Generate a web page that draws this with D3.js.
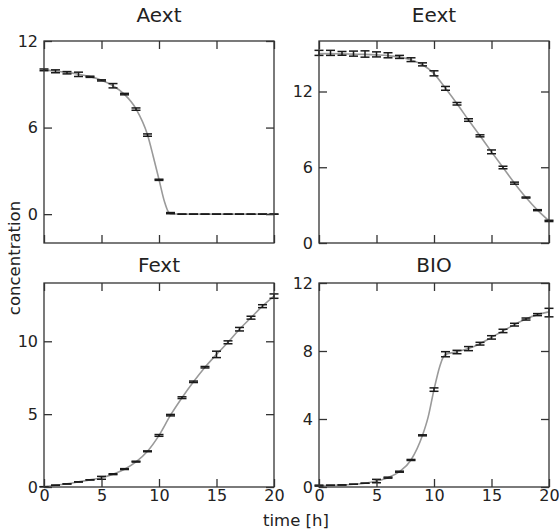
<!DOCTYPE html>
<html><head><meta charset="utf-8">
<script src="https://cdn.jsdelivr.net/npm/d3@7"></script>
<style>body{margin:0;background:#fff}svg{display:block}text{font-family:"DejaVu Sans",sans-serif;fill:#222}</style>
</head><body>
<script>
const times = d3.range(0, 21);
const xTicks = [0, 5, 10, 15, 20];

const aextVals = [10.0, 9.9, 9.8, 9.69, 9.52, 9.27, 8.9, 8.32, 7.28, 5.48, 2.38, 0.07, 0, 0, 0, 0, 0, 0, 0, 0, 0];
const aextErr  = [0.06, 0.1, 0.08, 0.15, 0.04, 0.04, 0.15, 0.05, 0.08, 0.08, 0.04, 0.04, 0, 0, 0, 0, 0, 0, 0, 0, 0];
const aextModelT = [0,1,2,3,4,5,6,7,8,9,9.5,10,10.5,10.75,11,12,13,14,15,16,17,18,19,20];
const aextModelV = [10.0,9.92,9.82,9.7,9.53,9.28,8.9,8.3,7.3,5.5,4.0,2.4,0.8,0.25,0.03,0,0,0,0,0,0,0,0,0,0];

const eextVals = [15.06, 15.06, 15.02, 15.0, 14.97, 14.94, 14.87, 14.74, 14.52, 14.15, 13.44, 12.25, 11.03, 9.74, 8.49, 7.22, 5.98, 4.74, 3.6, 2.6, 1.75];
const eextErr  = [0.2, 0.2, 0.15, 0.2, 0.25, 0.2, 0.2, 0.12, 0.15, 0.12, 0.2, 0.15, 0.1, 0.1, 0.08, 0.15, 0.1, 0.08, 0.04, 0.04, 0.05];
const eextModelT = times;
const eextModelV = [15.0, 15.0, 14.98, 14.96, 14.94, 14.9, 14.84, 14.72, 14.5, 14.12, 13.42, 12.25, 11.03, 9.74, 8.49, 7.22, 5.98, 4.74, 3.6, 2.6, 1.75];

const fextVals = [0.02, 0.12, 0.21, 0.35, 0.49, 0.63, 0.88, 1.23, 1.74, 2.45, 3.54, 4.93, 6.13, 7.22, 8.22, 9.1, 9.93, 10.83, 11.62, 12.41, 13.1];
const fextErr  = [0, 0, 0, 0, 0, 0.1, 0.03, 0.03, 0.03, 0.03, 0.06, 0.05, 0.06, 0.05, 0.05, 0.22, 0.1, 0.12, 0.1, 0.1, 0.15];
const fextModelT = times;
const fextModelV = [0.02, 0.12, 0.22, 0.35, 0.49, 0.64, 0.88, 1.22, 1.72, 2.45, 3.54, 4.93, 6.13, 7.22, 8.22, 9.1, 9.93, 10.83, 11.62, 12.41, 13.1];

const bioVals = [0.08, 0.1, 0.12, 0.16, 0.22, 0.35, 0.55, 0.9, 1.59, 3.04, 5.73, 7.81, 7.94, 8.14, 8.43, 8.8, 9.18, 9.55, 9.88, 10.14, 10.26];
const bioErr  = [0.03, 0, 0, 0, 0, 0.1, 0.03, 0.03, 0.03, 0.03, 0.1, 0.15, 0.1, 0.12, 0.08, 0.1, 0.1, 0.08, 0.06, 0.06, 0.25];
const bioModelT = [0,1,2,3,4,5,6,7,8,9,9.5,10,10.5,10.75,11,12,13,14,15,16,17,18,19,20];
const bioModelV = [0.08,0.1,0.12,0.16,0.22,0.35,0.55,0.9,1.59,3.04,4.14,5.73,7.09,7.57,7.8,7.95,8.14,8.43,8.8,9.18,9.55,9.88,10.14,10.3];

const titles = ["Aext", "Eext", "Fext", "BIO"];
const yDomains = [[-2, 12], [0, 16], [0, 14], [0, 12]];
const yTicks = [[0, 6, 12], [0, 6, 12], [0, 5, 10], [0, 4, 8, 12]];

const panels = [
  {vals: aextVals, err: aextErr, mt: aextModelT, mv: aextModelV, box: [44, 274, 41, 243], titleY: 22, bottom: false},
  {vals: eextVals, err: eextErr, mt: eextModelT, mv: eextModelV, box: [319, 549, 41, 243], titleY: 22, bottom: false},
  {vals: fextVals, err: fextErr, mt: fextModelT, mv: fextModelV, box: [44, 274, 283, 487], titleY: 272, bottom: true},
  {vals: bioVals, err: bioErr, mt: bioModelT, mv: bioModelV, box: [319, 549, 283, 487], titleY: 272, bottom: true}
];

const svg = d3.select("body").append("svg").attr("width", 560).attr("height", 529);
const TL = 8;

panels.forEach((p, i) => {
  const [l, r, t, b] = p.box;
  const x = d3.scaleLinear().domain([0, 20]).range([l, r]);
  const y = d3.scaleLinear().domain(yDomains[i]).range([b, t]);
  const g = svg.append("g");

  const line = d3.line().x(d => x(d[0])).y(d => y(d[1])).curve(d3.curveMonotoneX);
  g.append("path").datum(p.mt.map((tt, k) => [tt, p.mv[k]]))
    .attr("d", line).attr("fill", "none").attr("stroke", "#9a9a9a").attr("stroke-width", 1.6);

  const eb = g.append("g").attr("stroke", "#1a1a1a").attr("stroke-width", 1.5);
  times.forEach((tt, k) => {
    const cx = x(tt), v = p.vals[k], e = p.err[k];
    const cw = 4.5;
    eb.append("line").attr("x1", cx).attr("x2", cx).attr("y1", y(v - e)).attr("y2", y(v + e));
    eb.append("line").attr("x1", cx - cw).attr("x2", cx + cw).attr("y1", y(v - e)).attr("y2", y(v - e));
    eb.append("line").attr("x1", cx - cw).attr("x2", cx + cw).attr("y1", y(v + e)).attr("y2", y(v + e));
  });

  const axL = d3.axisLeft(y).tickValues(yTicks[i]).tickSizeInner(-TL).tickSizeOuter(0).tickPadding(6);
  const axR = d3.axisRight(y).tickValues(yTicks[i]).tickSizeInner(-TL).tickSizeOuter(0).tickFormat("");
  const axB = d3.axisBottom(x).tickValues(xTicks).tickSizeInner(-TL).tickSizeOuter(0).tickPadding(3);
  const axT = d3.axisTop(x).tickValues(xTicks).tickSizeInner(-TL).tickSizeOuter(0).tickFormat("");
  const gl = g.append("g").attr("transform", `translate(${l},0)`).call(axL);
  const gr = g.append("g").attr("transform", `translate(${r},0)`).call(axR);
  const gb = g.append("g").attr("transform", `translate(0,${b})`).call(axB);
  const gt = g.append("g").attr("transform", `translate(0,${t})`).call(axT);
  if (!p.bottom) gb.selectAll("text").remove();
  [gl, gr, gb, gt].forEach(a => {
    a.selectAll("path").remove();
    a.selectAll("line").attr("stroke", "#333").attr("stroke-width", 1.3);
    a.selectAll("text").attr("font-size", 16).attr("fill", "#222").style("font-family", "DejaVu Sans, sans-serif");
  });
  g.append("rect").attr("x", l).attr("y", t).attr("width", r - l).attr("height", b - t)
    .attr("fill", "none").attr("stroke", "#333").attr("stroke-width", 1.3);

  g.append("text").attr("x", (l + r) / 2).attr("y", p.titleY).attr("text-anchor", "middle")
    .attr("font-size", 20).text(titles[i]);
});

svg.append("text").attr("transform", "translate(20,258) rotate(-90)").attr("text-anchor", "middle")
  .attr("font-size", 16.5).text("concentration");
svg.append("text").attr("x", 296).attr("y", 526).attr("text-anchor", "middle")
  .attr("font-size", 16.5).text("time [h]");
</script>
</body></html>
